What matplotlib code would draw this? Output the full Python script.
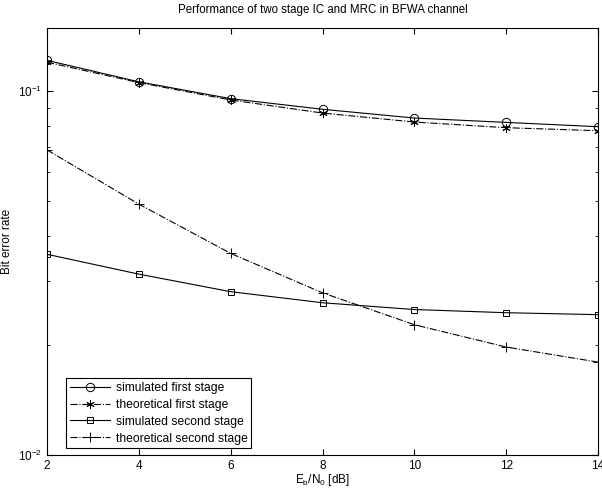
import matplotlib
matplotlib.use("Agg")
import matplotlib.pyplot as plt
from matplotlib.ticker import NullFormatter, LogLocator
import numpy as np

plt.rcParams['font.family'] = ['Liberation Sans', 'DejaVu Sans']
plt.rcParams['mathtext.fontset'] = 'custom'
plt.rcParams['mathtext.rm'] = 'Liberation Sans'
plt.rcParams['mathtext.it'] = 'Liberation Sans'

# Eb/N0 in dB
ebn0 = [2, 4, 6, 8, 10, 12, 14]

# bit error rates
sim_first = [0.1214, 0.1060, 0.0953, 0.0891, 0.0843, 0.0820, 0.0798]
theo_first = [0.1200, 0.1055, 0.0945, 0.0870, 0.0822, 0.0793, 0.0778]
sim_second = [0.0356, 0.0314, 0.0281, 0.0262, 0.0251, 0.0246, 0.0243]
theo_second = [0.0689, 0.0489, 0.0358, 0.0279, 0.0228, 0.0198, 0.0180]

labels = ["simulated first stage", "theoretical first stage",
          "simulated second stage", "theoretical second stage"]

fig = plt.figure(figsize=(6.02, 4.94), dpi=100)
ax = fig.add_axes([47/602, 39/494, 551/602, 427/494])

lw = 0.8
ax.semilogy(ebn0, sim_first, '-', color='k', lw=lw, marker='o', mfc='none', ms=6, mew=0.7, label=labels[0])
ax.semilogy(ebn0, theo_first, '-.', color='k', lw=lw, marker=(6, 2, 0), ms=6, mew=0.7, label=labels[1])
ax.semilogy(ebn0, sim_second, '-', color='k', lw=lw, marker='s', mfc='none', ms=5, mew=0.7, label=labels[2])
ax.semilogy(ebn0, theo_second, '-.', color='k', lw=lw, marker='+', ms=7, mew=0.7, label=labels[3])

ax.set_xlim(2, 14)
ax.set_ylim(0.01, 0.149)
ax.set_xticks(ebn0)
ax.yaxis.set_minor_locator(LogLocator(base=10, subs=np.arange(2, 10)))
ax.yaxis.set_minor_formatter(NullFormatter())

ax.tick_params(which='both', direction='in', top=True, right=True, labelsize=8.5)
ax.tick_params(which='major', length=4)
ax.tick_params(which='minor', length=2)
for s in ax.spines.values():
    s.set_linewidth(0.8)

ax.set_title("Performance of two stage IC and MRC in BFWA channel", fontsize=8.3, pad=10.5)
ax.set_xlabel(r"E$_\mathregular{b}$/N$_\mathregular{0}$ [dB]", fontsize=8.5, labelpad=0)
ax.set_ylabel("Bit error rate", fontsize=8.5)
ax.yaxis.set_label_coords(-0.062, 0.5)

leg = ax.legend(loc='lower left', bbox_to_anchor=(0.035, 0.016), borderaxespad=0,
                fontsize=8.7, fancybox=False, edgecolor='k', framealpha=1,
                borderpad=0.3, labelspacing=0.4, handlelength=3.3, handletextpad=0.5)
leg.get_frame().set_linewidth(0.8)

fig.savefig("out.png", dpi=100)
